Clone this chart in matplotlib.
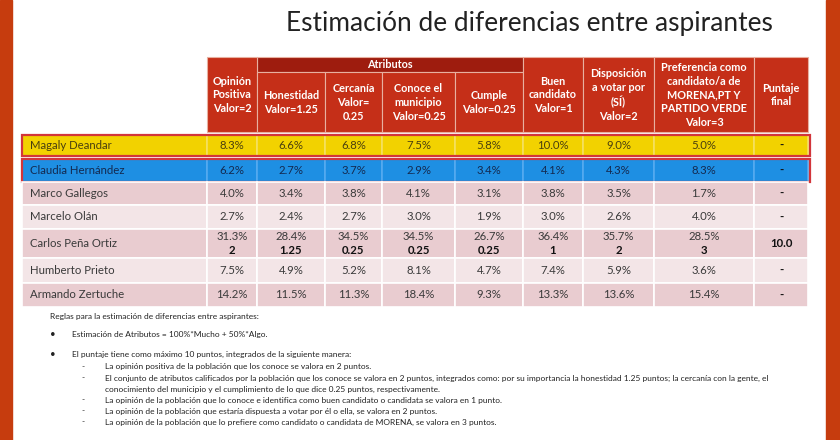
import matplotlib.pyplot as plt
from matplotlib.patches import Rectangle

plt.rcParams['font.family'] = ['Lato', 'DejaVu Sans']

# data
title = "Estimación de diferencias entre aspirantes"
headers = ["Opinión\nPositiva\nValor=2", "Honestidad\nValor=1.25", "Cercanía\nValor=\n0.25",
           "Conoce el\nmunicipio\nValor=0.25", "Cumple\nValor=0.25", "Buen\ncandidato\nValor=1",
           "Disposición\na votar por\n(SÍ)\nValor=2",
           "Preferencia como\ncandidato/a de\nMORENA,PT Y\nPARTIDO VERDE\nValor=3",
           "Puntaje\nfinal"]
group_label = "Atributos"
names = ["Magaly Deandar", "Claudia Hernández", "Marco Gallegos", "Marcelo Olán",
         "Carlos Peña Ortiz", "Humberto Prieto", "Armando Zertuche"]
magaly = [8.3, 6.6, 6.8, 7.5, 5.8, 10.0, 9.0, 5.0]
claudia = [6.2, 2.7, 3.7, 2.9, 3.4, 4.1, 4.3, 8.3]
marco = [4.0, 3.4, 3.8, 4.1, 3.1, 3.8, 3.5, 1.7]
marcelo = [2.7, 2.4, 2.7, 3.0, 1.9, 3.0, 2.6, 4.0]
carlos = [31.3, 28.4, 34.5, 34.5, 26.7, 36.4, 35.7, 28.5]
humberto = [7.5, 4.9, 5.2, 8.1, 4.7, 7.4, 5.9, 3.6]
armando = [14.2, 11.5, 11.3, 18.4, 9.3, 13.3, 13.6, 15.4]
values = [magaly, claudia, marco, marcelo, carlos, humberto, armando]
weights = ["2", "1.25", "0.25", "0.25", "0.25", "1", "2", "3"]
final_scores = ["-", "-", "-", "-", "10.0", "-", "-"]

notes_title = "Reglas para la estimación de diferencias entre aspirantes:"
bullets = ["Estimación de Atributos = 100%*Mucho + 50%*Algo.",
           "El puntaje tiene como máximo 10 puntos, integrados de la siguiente manera:"]
sub_items = [["La opinión positiva de la población que los conoce se valora en 2 puntos."],
             ["El conjunto de atributos calificados por la población que los conoce se valora en 2 puntos, integrados como: por su importancia la honestidad 1.25 puntos; la cercanía con la gente, el",
              "conocimiento del municipio y el cumplimiento de lo que dice 0.25 puntos, respectivamente."],
             ["La opinión de la población que lo conoce e identifica como buen candidato o candidata se valora en 1 punto."],
             ["La opinión de la población que estaría dispuesta a votar por él o ella, se valora en 2 puntos."],
             ["La opinión de la población que lo prefiere como candidato o candidata de MORENA, se valora en 3 puntos."]]

# layout (pixel coords)
col_edges = [22, 207, 257, 325, 382, 455, 523, 583, 654, 754, 808]
row_edges = [135, 158, 182, 205, 229, 258, 283, 307]
head_top, band_bot, head_bot = 57, 72, 132
row_colors = ["#f2d200", "#1e8fe3", "#e9ccd0", "#f3e5e7", "#e9ccd0", "#f3e5e7", "#e9ccd0"]
row_edgec = ["#f5e060", "#55aaf0", "white", "white", "white", "white", "white"]
text_colors = ["#4a3f10", "#142a50", "#3a3a3a", "#3a3a3a", "#3a3a3a", "#3a3a3a", "#3a3a3a"]
red = "#c52f18"

fig = plt.figure(figsize=(8.4, 4.4), dpi=100)
ax = fig.add_axes([0, 0, 1, 1])
ax.set_xlim(0, 840)
ax.set_ylim(440, 0)
ax.axis('off')

# side bars
ax.add_patch(Rectangle((0, 0), 12, 440, color="#c63c0e"))
ax.add_patch(Rectangle((826, 0), 14, 440, color="#c63c0e"))

ax.text(529, 23, title, ha='center', va='center', fontsize=18.9, color="#222222")

# header
ax.add_patch(Rectangle((col_edges[2], head_top), col_edges[6] - col_edges[2], band_bot - head_top,
                       facecolor="#9e1c0e", edgecolor="#e8b0a0", lw=0.8))
ax.text((col_edges[2] + col_edges[6]) / 2, (head_top + band_bot) / 2, group_label,
        ha='center', va='center', color="white", fontsize=7.8, fontweight='bold')
for j, h in enumerate(headers):
    x0, x1 = col_edges[j + 1], col_edges[j + 2]
    top = band_bot if 1 <= j <= 4 else head_top
    ax.add_patch(Rectangle((x0, top), x1 - x0, head_bot - top,
                           facecolor=red, edgecolor="#e8b0a0", lw=0.8))
    ax.text((x0 + x1) / 2, (top + head_bot) / 2 + 0.5, h, ha='center', va='center',
            color="white", fontsize=7.8, fontweight='bold', linespacing=1.3)

# rows
for i, name in enumerate(names):
    y0, y1 = row_edges[i], row_edges[i + 1]
    if i == 0:
        y1 -= 1.5
    if i == 1:
        y0 += 1
    for j in range(len(col_edges) - 1):
        x0, x1 = col_edges[j], col_edges[j + 1]
        ax.add_patch(Rectangle((x0, y0), x1 - x0, y1 - y0, facecolor=row_colors[i],
                               edgecolor=row_edgec[i], lw=1.2))
    if i < 2:
        ax.add_patch(Rectangle((col_edges[0], y0), 810 - col_edges[0], y1 - y0,
                               facecolor='none', edgecolor="#d2353a", lw=1.6))
    yc = (y0 + y1) / 2
    tc = text_colors[i]
    ax.text(30, yc, name, ha='left', va='center', fontsize=8.2, color=tc)
    for j, v in enumerate(values[i]):
        xc = (col_edges[j + 1] + col_edges[j + 2]) / 2
        if name == "Carlos Peña Ortiz":
            ax.text(xc, yc - 7, f"{v:.1f}%", ha='center', va='center', fontsize=8.2, color=tc)
            ax.text(xc, yc + 7, weights[j], ha='center', va='center', fontsize=8.2,
                    color="#111111", fontweight='bold')
        else:
            ax.text(xc, yc, f"{v:.1f}%", ha='center', va='center', fontsize=8.2, color=tc)
    xc = (col_edges[-2] + col_edges[-1]) / 2
    ax.text(xc, yc, final_scores[i], ha='center', va='center', fontsize=8.2,
            color="#111111", fontweight='bold')

# notes
note_fs = 6.0
ax.text(50, 316, notes_title, ha='left', va='center', fontsize=note_fs, color="#222222")
for k, b in enumerate(bullets):
    y = 334 + 20 * k
    ax.text(50, y, "•", ha='left', va='center', fontsize=note_fs + 1, color="#222222")
    ax.text(72, y, b, ha='left', va='center', fontsize=note_fs, color="#222222")
y = 367
for item in sub_items:
    ax.text(81, y, "-", ha='left', va='center', fontsize=note_fs, color="#222222")
    for line in item:
        ax.text(105, y, line, ha='left', va='center', fontsize=note_fs, color="#222222")
        y += 11

fig.savefig("out.png", dpi=100)
